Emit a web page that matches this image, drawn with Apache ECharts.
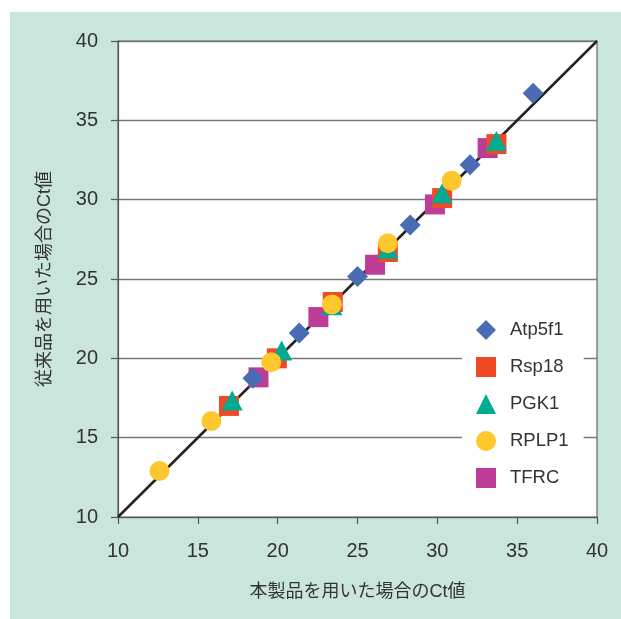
<!DOCTYPE html>
<html>
<head>
<meta charset="utf-8">
<script src="https://cdn.jsdelivr.net/npm/echarts@6/dist/echarts.min.js"></script>
<style>
html,body{margin:0;padding:0;background:#fff;}
#c{width:621px;height:619px;background:linear-gradient(#cae6dc,#cae6dc) no-repeat 10px 12px / 611px 607px, #fff;}
</style>
</head>
<body>
<div id="c"></div>
<script>
var xTicks = [10, 15, 20, 25, 30, 35, 40];
var yTicks = [10, 15, 20, 25, 30, 35, 40];
var seriesNames = ['Atp5f1', 'Rsp18', 'PGK1', 'RPLP1', 'TFRC'];
var atp5f1 = [[36.0, 36.7], [32.05, 32.2], [28.3, 28.4], [25.0, 25.15], [21.35, 21.6], [18.45, 18.75]];
var rsp18 = [[33.7, 33.5], [30.3, 30.1], [26.9, 26.7], [23.45, 23.55], [19.95, 20.0], [16.95, 17.0]];
var pgk1 = [[33.7, 33.7], [30.3, 30.4], [26.9, 26.9], [23.4, 23.35], [20.25, 20.5], [17.15, 17.35]];
var rplp1 = [[30.9, 31.2], [26.9, 27.25], [23.4, 23.4], [19.6, 19.75], [15.85, 16.05], [12.6, 12.9]];
var tfrc = [[33.15, 33.25], [29.85, 29.7], [26.1, 25.9], [22.55, 22.6], [18.8, 18.8]];
var identityLine = [[10, 10], [40, 40]];

var FONT = '"Liberation Sans", Arial, "Noto Sans CJK JP", sans-serif';
var chart = echarts.init(document.getElementById('c'));
chart.setOption({
  backgroundColor: 'transparent',
  animation: false,
  grid: {left: 118, right: 24, top: 41, bottom: 102, show: true, backgroundColor: '#fff', borderColor: '#666', borderWidth: 1.2},
  legend: {
    orient: 'vertical', left: 462, top: 306,
    data: seriesNames,
    backgroundColor: '#fff',
    padding: [14, 15, 14, 14],
    itemWidth: 20, itemHeight: 20, itemGap: 17,
    textStyle: {fontSize: 18.5, color: '#333', fontFamily: FONT, padding: [0, 0, 0, 9]}
  },
  xAxis: {
    type: 'value', min: xTicks[0], max: xTicks[xTicks.length - 1], interval: 5,
    name: '本製品を用いた場合のCt値', nameLocation: 'middle', nameGap: 66,
    nameTextStyle: {fontSize: 18, color: '#333', fontFamily: FONT},
    axisLine: {lineStyle: {color: '#555', width: 1.2}},
    axisTick: {show: true, inside: false, length: 7, lineStyle: {color: '#555', width: 1.2}},
    axisLabel: {fontSize: 20, color: '#333', fontFamily: FONT, margin: 24},
    splitLine: {show: false}
  },
  yAxis: {
    type: 'value', min: yTicks[0], max: yTicks[yTicks.length - 1], interval: 5,
    name: '従来品を用いた場合のCt値', nameLocation: 'middle', nameGap: 64,
    nameTextStyle: {fontSize: 18, color: '#333', fontFamily: FONT},
    axisLine: {lineStyle: {color: '#555', width: 1.2}},
    axisTick: {show: true, inside: false, length: 7, lineStyle: {color: '#555', width: 1.2}},
    axisLabel: {fontSize: 20, color: '#333', fontFamily: FONT, margin: 20},
    splitLine: {show: true, lineStyle: {color: '#777', width: 1.3}}
  },
  series: [
    {type: 'line', data: identityLine, symbol: 'none', lineStyle: {color: '#222', width: 2.5}, z: 1, silent: true},
    {name: 'TFRC', type: 'scatter', data: tfrc, symbol: 'rect', symbolSize: 20, itemStyle: {color: '#bc3c97', opacity: 1}, z: 2},
    {name: 'Rsp18', type: 'scatter', data: rsp18, symbol: 'rect', symbolSize: 20, itemStyle: {color: '#ee4a24', opacity: 1}, z: 3},
    {name: 'PGK1', type: 'scatter', data: pgk1, symbol: 'triangle', symbolSize: [21, 20], itemStyle: {color: '#00ab92', opacity: 1}, z: 4},
    {name: 'RPLP1', type: 'scatter', data: rplp1, symbol: 'circle', symbolSize: 20, itemStyle: {color: '#fdc72d', opacity: 1}, z: 5},
    {name: 'Atp5f1', type: 'scatter', data: atp5f1, symbol: 'diamond', symbolSize: 21, itemStyle: {color: '#4a6cb4', opacity: 1}, z: 6}
  ]
});
</script>
</body>
</html>
